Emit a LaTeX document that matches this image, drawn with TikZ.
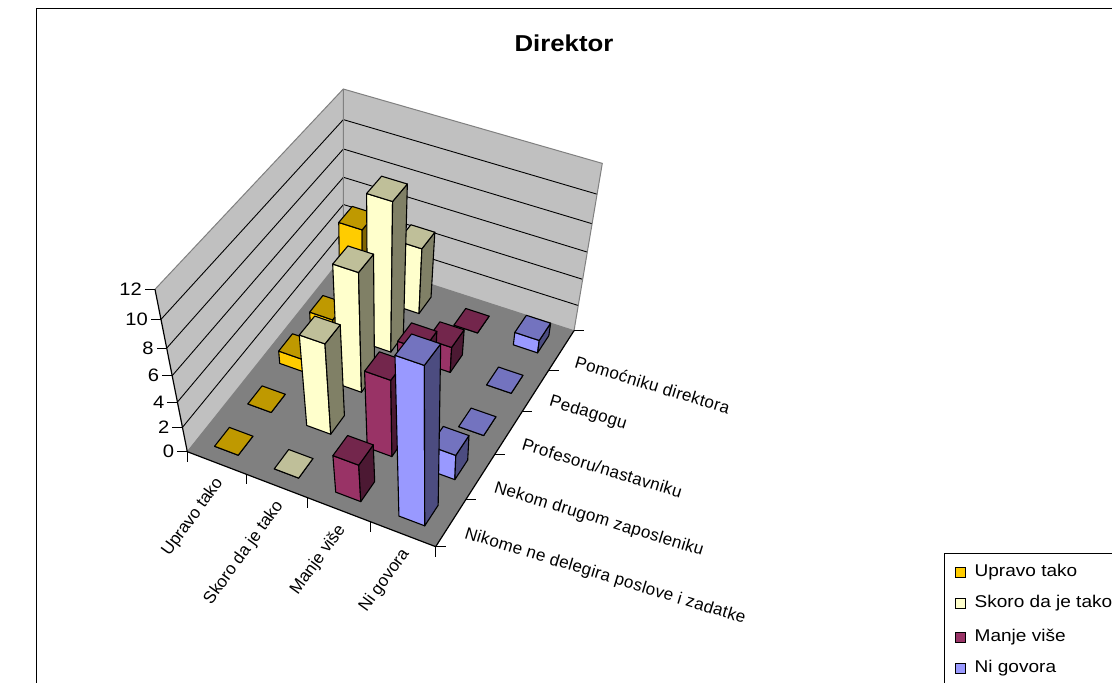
\documentclass[tikz,border=0pt]{standalone}
\usepackage{fontspec}
\setmainfont{Liberation Sans}
\newfontfamily\xlfont[FakeStretch=1.12]{Liberation Sans}
\usetikzlibrary{positioning}

\definecolor{upravo}{HTML}{FFCC00}
\definecolor{skoro}{HTML}{FFFFCC}
\definecolor{manje}{HTML}{993366}
\definecolor{nigov}{HTML}{9999FF}
\definecolor{wallgray}{HTML}{C0C0C0}
\definecolor{floorgray}{HTML}{808080}

% screen point of (series pos, category pos, value)
\newcommand{\proj}[4]{%
  \pgfmathsetmacro{\pu}{(#1)/4}%
  \pgfmathsetmacro{\pv}{(#2)/5}%
  \pgfmathsetmacro{\pz}{(#3)/12}%
  \pgfmathsetmacro{\pw}{1-0.05559*\pu+0.11101*\pv-0.12*\pz}%
  \pgfmathsetmacro{\prX}{(224.18*\pu+194.33*\pv+187.3+(-50.9-1.0*\pu+9.5*\pv)*\pz)/\pw}%
  \pgfmathsetmacro{\prY}{(64.61*\pu-167.28*\pv+451.7+(-197.1+0.9*\pv)*\pz)/\pw}%
  \coordinate (#4) at (\prX,\prY);
}

% one column: series, category, value, colour
\newcommand{\drawcol}[4]{%
  \proj{#1+0.3}{#2+0.28}{0}{b1}
  \proj{#1+0.7}{#2+0.28}{0}{b2}
  \proj{#1+0.7}{#2+0.72}{0}{b3}
  \proj{#1+0.3}{#2+0.28}{#3}{t1}
  \proj{#1+0.7}{#2+0.28}{#3}{t2}
  \proj{#1+0.7}{#2+0.72}{#3}{t3}
  \proj{#1+0.3}{#2+0.72}{#3}{t4}
  \draw[barline, fill=#4] (b1) -- (b2) -- (t2) -- (t1) -- cycle;
  \draw[barline, fill=#4!50!black] (b2) -- (b3) -- (t3) -- (t2) -- cycle;
  \draw[barline, fill=#4!75!black] (t1) -- (t2) -- (t3) -- (t4) -- cycle;
}

\begin{document}
\begin{tikzpicture}[x=1pt, y=-1pt,
  barline/.style={draw=black, line width=1.1pt, line join=round},
  edge/.style={draw=floorgray, line width=1pt},
  gridline/.style={black, line width=0.9pt},
  tick/.style={black, line width=1pt},
  lbl/.style={font=\fontsize{17}{20}\selectfont, inner sep=0pt},
  flat/.style={font=\xlfont\fontsize{17}{20}\selectfont, inner sep=0pt}]
\useasboundingbox (0,0) rectangle (1112,683);
\fill[white] (0,0) rectangle (1112,683);

% chart frame
\draw[black, line width=1pt] (36,700) -- (36,8) -- (1130,8);

\node[font=\xlfont\bfseries\fontsize{23}{26}\selectfont, inner sep=0pt] (title) at (564,43) {Direktor};

% walls and floor
\proj{0}{0}{0}{A} \proj{4}{0}{0}{B} \proj{4}{5}{0}{C} \proj{0}{5}{0}{D}
\proj{0}{0}{12}{At} \proj{4}{5}{12}{Ct} \proj{0}{5}{12}{Dt}
\fill[wallgray] (A) -- (D) -- (Dt) -- (At) -- cycle;
\fill[wallgray] (D) -- (C) -- (Ct) -- (Dt) -- cycle;
\fill[floorgray] (A) -- (B) -- (C) -- (D) -- cycle;
\foreach \k in {2,4,...,10} {
  \proj{0}{0}{\k}{g1} \proj{0}{5}{\k}{g2} \proj{4}{5}{\k}{g3}
  \draw[gridline] (g1) -- (g2) -- (g3);
}
\draw[edge] (At) -- (Dt) -- (Ct) -- (C) -- (D) -- (A);
\draw[edge] (D) -- (Dt);
\draw[black, line width=1.2pt] (At) -- (A) -- (B) -- (C);

% value axis
\foreach \k in {0,2,...,12} {
  \proj{0}{0}{\k}{v\k}
  \draw[tick] (v\k) -- ++(-10,0) coordinate (vt\k);
  \node[flat, font=\xlfont\fontsize{18}{20}\selectfont, anchor=east] (val\k) at ([xshift=-3pt]vt\k) {\k};
}

% series axis
\foreach \i/\t in {0/Upravo tako, 1/Skoro da je tako, 2/Manje više, 3/Ni govora} {
  \proj{\i+0.5}{0}{0}{fc\i}
  \node[lbl, rotate=54, anchor=east] (ser\i) at ([shift={(3,17)}]fc\i) {\t};
}
\foreach \i in {0,...,4} {
  \proj{\i}{0}{0}{f\i}
  \draw[tick] (f\i) -- ++(0,10);
}

% category axis
\foreach \j/\t in {0/Nikome ne delegira poslove i zadatke, 1/Nekom drugom zaposleniku,
    2/{Profesoru/nastavniku}, 3/Pedagogu, 4/Pomoćniku direktora} {
  \proj{4}{\j+0.5}{0}{rc\j}
  \node[lbl, font=\fontsize{17}{20}\selectfont\addfontfeature{LetterSpace=2}, rotate=-17, anchor=west] (cat\j) at ([shift={(14,11)}]rc\j) {\t};
}
\foreach \j in {0,...,5} {
  \proj{4}{\j}{0}{r\j}
  \draw[tick] (r\j) -- ++(10,0);
}

% columns, back to front
\foreach \i/\j/\k/\c in {0/4/5/upravo, 1/4/5/skoro, 2/4/0/manje, 3/4/1/nigov,
    0/3/1/upravo, 1/3/11/skoro, 2/3/2/manje, 3/3/0/nigov,
    0/2/1/upravo, 1/2/9/skoro, 2/2/5/manje, 3/2/0/nigov,
    0/1/0/upravo, 1/1/7/skoro, 2/1/6/manje, 3/1/2/nigov,
    0/0/0/upravo, 1/0/0/skoro, 2/0/3/manje, 3/0/12/nigov} {
  \drawcol{\i}{\j}{\k}{\c}
}

% legend
\draw[black, line width=1pt] (944,700) -- (944,553) -- (1130,553);
\foreach \n/\c/\t/\y in {1/upravo/Upravo tako/572, 2/skoro/Skoro da je tako/603,
    3/manje/Manje više/637, 4/nigov/Ni govora/668} {
  \node[draw=black, line width=0.9pt, fill=\c, minimum size=10pt, inner sep=0pt] (key\n) at (960,\y) {};
  \node[flat, right=9pt of key\n] (keytext\n) {\t};
}
\end{tikzpicture}
\end{document}
